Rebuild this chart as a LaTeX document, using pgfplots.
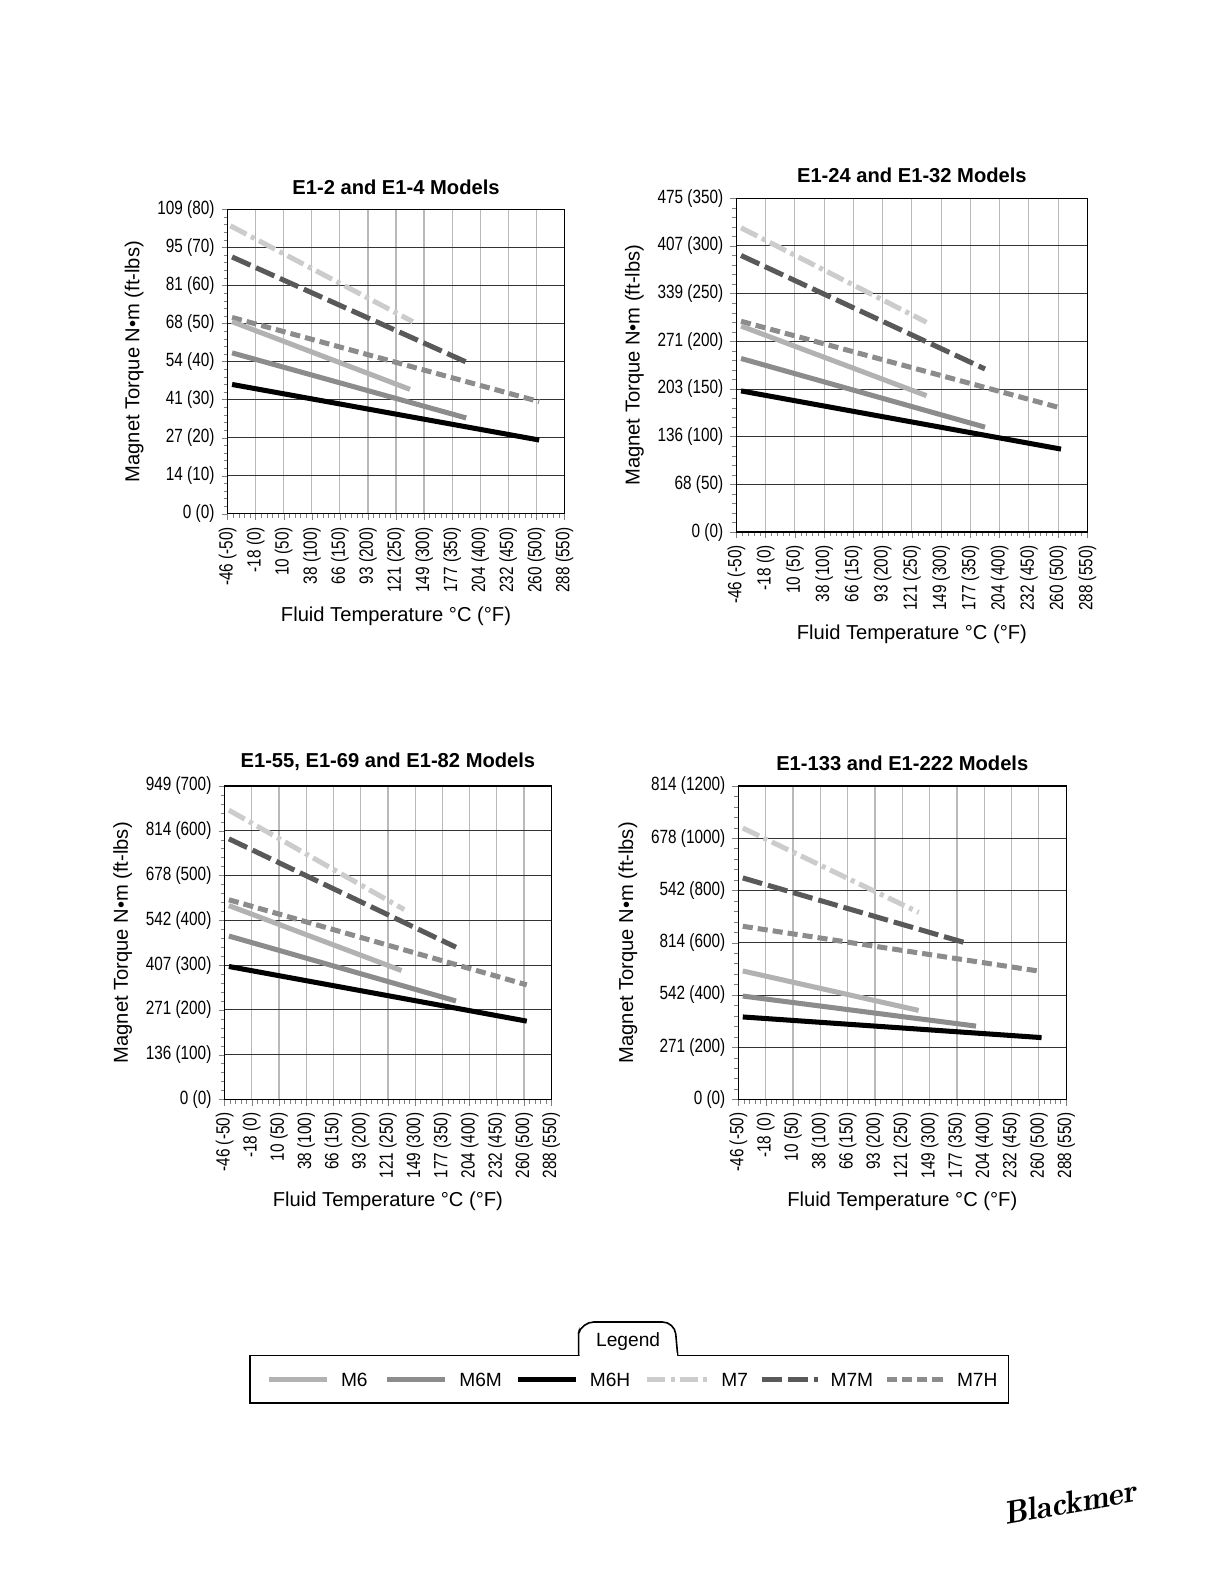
\documentclass[border=0pt]{standalone}
\usepackage{pgfplots}
\pgfplotsset{compat=1.18}
\usepackage{fontspec}
\setmainfont{Liberation Sans}[FakeStretch=0.8]
\newfontfamily\wide{Liberation Sans}
\definecolor{cM6}{gray}{0.70}
\definecolor{cM6M}{gray}{0.55}
\definecolor{cM7}{gray}{0.80}
\definecolor{cM7M}{gray}{0.35}
\definecolor{cM7H}{gray}{0.55}
\pgfplotsset{
  tq/.style={scale only axis, xmin=-50, xmax=550, ymin=0,
    xtick={-50,0,...,550},
    xticklabels={-46 (-50),-18 (0),10 (50),38 (100),66 (150),93 (200),121 (250),149 (300),177 (350),204 (400),232 (450),260 (500),288 (550)},
    x tick label style={rotate=90,anchor=east,font=\fontsize{9.5}{10}\selectfont},
    y tick label style={font=\fontsize{9.5}{10}\selectfont},
    minor x tick num=4, minor y tick num=4,
    tick align=outside, tick pos=left,
    major tick length=3pt, minor tick length=2pt,
    grid=major,
    x grid style={gray!55, line width=0.6pt},
    y grid style={black!80, line width=0.5pt},
    axis line style={black, line width=0.6pt},
    title style={font=\wide\bfseries\fontsize{10}{12}\selectfont, yshift=-2pt},
    xlabel={Fluid Temperature °C (°F)},
    ylabel={Magnet Torque N•m (ft-lbs)},
    label style={font=\fontsize{10}{12}\selectfont\wide},
    every axis plot/.append style={line width=2.5pt},
  },
  m6/.style={cM6},
  m6m/.style={cM6M},
  m6h/.style={black},
  m7/.style={cM7, dash pattern=on 9pt off 2.5pt on 2pt off 2.5pt},
  m7m/.style={cM7M, dash pattern=on 10pt off 3pt},
  m7h/.style={cM7H, dash pattern=on 5pt off 2.5pt},
}
\begin{document}
\begin{tikzpicture}[x=0.5bp,y=-0.5bp]
\useasboundingbox (0,0) rectangle (1211,1567);
% Chart 1
\begin{axis}[tq, at={(112.5bp,-254bp)}, anchor=south west, width=166.5bp, height=150.5bp,
  ymax=80, ytick={0,10,...,80},
  yticklabels={0 (0),14 (10),27 (20),41 (30),54 (40),68 (50),81 (60),95 (70),109 (80)},
  title={E1-2 and E1-4 Models}]
\addplot[m7] coordinates {(-45,75.7) (280,50.5)};
\addplot[m7m] coordinates {(-42,67.5) (375,39.9)};
\addplot[m7h] coordinates {(-42,51.6) (505,29.5)};
\addplot[m6] coordinates {(-42,50.5) (275,32.7)};
\addplot[m6m] coordinates {(-42,42.3) (375,25.2)};
\addplot[m6h] coordinates {(-42,34) (505,19.4)};
\end{axis}
% Chart 2
\begin{axis}[tq, at={(364bp,-263bp)}, anchor=south west, width=173.5bp, height=165bp,
  ymax=350, ytick={0,50,...,350},
  yticklabels={0 (0),68 (50),136 (100),203 (150),271 (200),339 (250),407 (300),475 (350)},
  title={E1-24 and E1-32 Models}]
\addplot[m7] coordinates {(-42,319) (275,220)};
\addplot[m7m] coordinates {(-42,290) (375,171)};
\addplot[m7h] coordinates {(-42,221) (505,130)};
\addplot[m6] coordinates {(-42,216) (275,143)};
\addplot[m6m] coordinates {(-42,182) (375,110)};
\addplot[m6h] coordinates {(-42,148) (505,87)};
\end{axis}
% Chart 3
\begin{axis}[tq, at={(111bp,-543.5bp)}, anchor=south west, width=161.5bp, height=155bp,
  ymax=700, ytick={0,100,...,700},
  yticklabels={0 (0),136 (100),271 (200),407 (300),542 (400),678 (500),814 (600),949 (700)},
  title={E1-55, E1-69 and E1-82 Models}]
\addplot[m7] coordinates {(-42,646) (280,424)};
\addplot[m7m] coordinates {(-42,582) (375,340)};
\addplot[m7h] coordinates {(-42,446) (505,256)};
\addplot[m6] coordinates {(-42,433) (275,288)};
\addplot[m6m] coordinates {(-42,365) (375,220)};
\addplot[m6h] coordinates {(-42,297) (505,175)};
\end{axis}
% Chart 4
\begin{axis}[tq, at={(365bp,-543.5bp)}, anchor=south west, width=162bp, height=155bp,
  ymax=1200, ytick={0,200,...,1200},
  yticklabels={0 (0),271 (200),542 (400),814 (600),542 (800),678 (1000),814 (1200)},
  title={E1-133 and E1-222 Models}]
\addplot[m7] coordinates {(-42,1039) (280,716)};
\addplot[m7m] coordinates {(-42,848) (370,597)};
\addplot[m7h] coordinates {(-42,663) (505,490)};
\addplot[m6] coordinates {(-42,492) (280,341)};
\addplot[m6m] coordinates {(-42,396) (385,281)};
\addplot[m6h] coordinates {(-42,316) (505,237)};
\end{axis}
% Legend
\draw[black, line width=0.8pt] (247,1340) rectangle (997,1387);
\draw[black, line width=0.8pt, fill=white] (572,1340) -- (572,1318) [rounded corners=6pt] -- (575,1307) -- (667,1307) [sharp corners] -- (670,1340);
\fill[white] (573,1338) rectangle (669,1342);
\node[font=\wide\fontsize{9.5}{12}\selectfont] at (621,1326) {Legend};
\begin{scope}[line width=2.5pt]
\draw[cM6] (266,1364) -- (323,1364);
\node[anchor=west,font=\wide\fontsize{9.5}{12}\selectfont] at (328,1364) {M6};
\draw[cM6M] (383,1364) -- (440,1364);
\node[anchor=west,font=\wide\fontsize{9.5}{12}\selectfont] at (445,1364) {M6M};
\draw[black] (512,1364) -- (569,1364);
\node[anchor=west,font=\wide\fontsize{9.5}{12}\selectfont] at (574,1364) {M6H};
\draw[cM7, dash pattern=on 9pt off 2.5pt on 2pt off 2.5pt] (640,1364) -- (699,1364);
\node[anchor=west,font=\wide\fontsize{9.5}{12}\selectfont] at (704,1364) {M7};
\draw[cM7M, dash pattern=on 10pt off 3pt] (753,1364) -- (809,1364);
\node[anchor=west,font=\wide\fontsize{9.5}{12}\selectfont] at (812,1364) {M7M};
\draw[cM7H, dash pattern=on 5pt off 2.5pt] (877,1364) -- (935,1364);
\node[anchor=west,font=\wide\fontsize{9.5}{12}\selectfont] at (937,1364) {M7H};
\end{scope}
\node[font=\fontfamily{lmr}\selectfont\bfseries\itshape\fontsize{16}{18}\selectfont, rotate=10] at (1058,1485) {Blackmer};
\end{tikzpicture}
\end{document}
